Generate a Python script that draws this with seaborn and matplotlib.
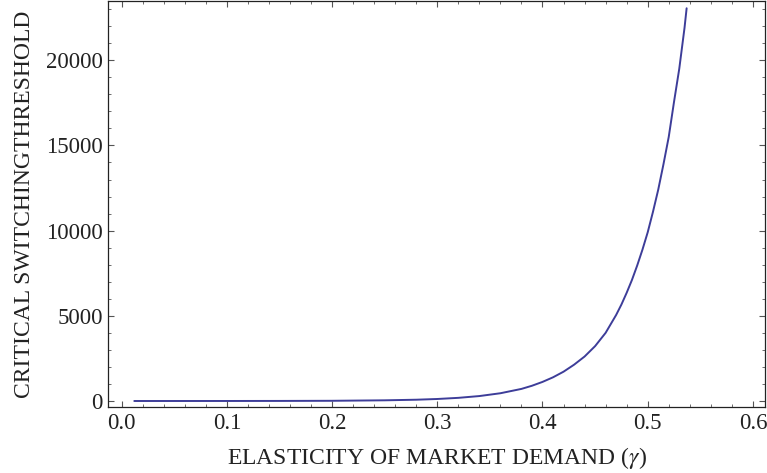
import numpy as np
import pandas as pd
import matplotlib
matplotlib.use("Agg")
import matplotlib.pyplot as plt
import seaborn as sns
from matplotlib.ticker import MultipleLocator

# values
gamma = [0.012, 0.05, 0.10, 0.15, 0.20, 0.25, 0.28, 0.30, 0.32, 0.34, 0.36,
         0.38, 0.39, 0.40, 0.41, 0.42, 0.43, 0.44, 0.45, 0.46, 0.47, 0.475,
         0.48, 0.485, 0.49, 0.495, 0.50, 0.505, 0.51, 0.515, 0.52, 0.525,
         0.53, 0.535, 0.537]
threshold = [0, 0, 1, 4, 12, 40, 75, 118, 185, 290, 455,
             710, 895, 1120, 1390, 1720, 2130, 2610, 3220, 4000, 5050, 5660,
             6350, 7100, 7950, 8880, 9900, 11100, 12400, 13900, 15500, 17550,
             19500, 21900, 23050]

x_ticks = [0.0, 0.1, 0.2, 0.3, 0.4, 0.5, 0.6]
y_ticks = [0, 5000, 10000, 15000, 20000]

df = pd.DataFrame({"gamma": gamma, "threshold": threshold})

sns.set_style("ticks")
plt.rcParams["font.family"] = ["Liberation Serif", "DejaVu Serif"]
plt.rcParams["mathtext.fontset"] = "stix"

fig = plt.figure(figsize=(7.67, 4.73), dpi=100)
ax = fig.add_axes([0.1412, 0.1389, 0.8562, 0.8591])

sns.lineplot(data=df, x="gamma", y="threshold", ax=ax, color="#3d3d99", linewidth=1.4)

ax.set_xlim(-0.0127, 0.6115)
ax.set_ylim(-370, 23480)
ax.set_xticks(x_ticks)
ax.set_xticklabels([f"{v:.1f}" for v in x_ticks])
ax.set_yticks(y_ticks)
ax.set_yticklabels([str(v) for v in y_ticks])
ax.xaxis.set_minor_locator(MultipleLocator(0.02))
ax.yaxis.set_minor_locator(MultipleLocator(1000))

ax.tick_params(which="both", direction="in", top=True, right=True, colors="#555555",
               labelcolor="#222222", labelsize=16.5)
ax.tick_params(which="major", length=4.5, width=0.8)
ax.tick_params(which="minor", length=2.3, width=0.6)
ax.tick_params(axis="x", pad=4)
ax.tick_params(axis="y", pad=4)
for s in ax.spines.values():
    s.set_color("#222222")
    s.set_linewidth(0.9)

ax.set_xlabel(r"ELASTICITY OF MARKET DEMAND ($\gamma$)", fontsize=17, color="#222222")
ax.set_ylabel("CRITICAL SWITCHINGTHRESHOLD", fontsize=17, color="#222222")
ax.xaxis.set_label_coords(0.5, -0.094)
ax.yaxis.set_label_coords(-0.112, 0.50)

fig.savefig("out.png", dpi=100)
